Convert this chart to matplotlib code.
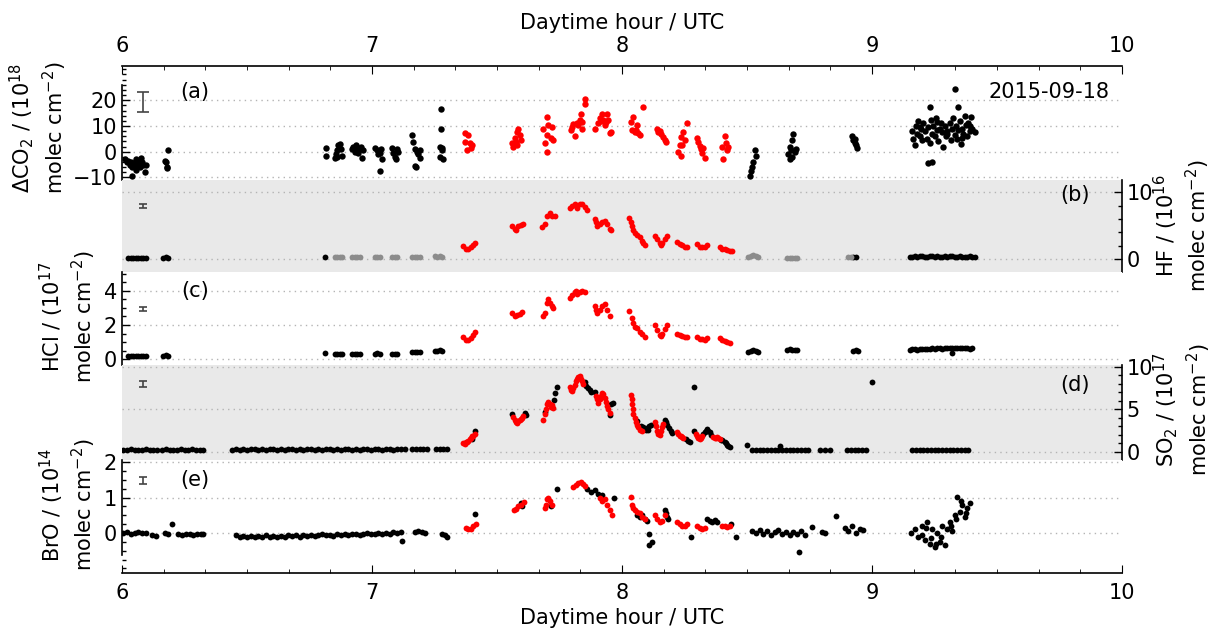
import matplotlib
matplotlib.use('Agg')
from matplotlib import pyplot as plt
from matplotlib.ticker import MultipleLocator

# ---------------- data (hour UTC, value) ----------------
# (a) delta CO2, 1e18 molec cm-2
co2_blk_t = [6.01, 6.02, 6.025, 6.03, 6.035, 6.04, 6.045, 6.05, 6.055, 6.06, 6.065, 6.07, 6.075, 6.08, 6.085, 6.04, 6.09, 6.055, 6.07, 6.095,
             6.17, 6.175, 6.18, 6.18, 6.185,
             6.815, 6.815,
             6.85, 6.855, 6.86, 6.865, 6.87, 6.875, 6.88, 6.86,
             6.92, 6.925, 6.93, 6.935, 6.94, 6.945, 6.95, 6.955, 6.96, 6.965,
             7.01, 7.02, 7.025, 7.03, 7.035, 7.04, 7.03,
             7.08, 7.085, 7.09, 7.1, 7.105, 7.095,
             7.16, 7.165, 7.17, 7.18, 7.185, 7.19, 7.17, 7.175, 7.19,
             7.275, 7.275, 7.27, 7.28, 7.27, 7.285, 7.28,
             8.53, 8.535, 8.525, 8.52, 8.515, 8.51, 8.53,
             8.685, 8.68, 8.67, 8.675, 8.69, 8.665, 8.68, 8.67, 8.695,
             8.92, 8.925, 8.93, 8.935, 8.94, 8.93,
             9.16, 9.165, 9.17, 9.175, 9.18, 9.185, 9.19, 9.195, 9.2, 9.205, 9.21, 9.232, 9.22, 9.225, 9.23, 9.235,
             9.24, 9.245, 9.25, 9.255, 9.26, 9.265, 9.27, 9.275, 9.28, 9.285, 9.29, 9.295, 9.3, 9.332, 9.31, 9.315,
             9.32, 9.325, 9.33, 9.335, 9.34, 9.345, 9.35, 9.355, 9.36, 9.365, 9.37, 9.375, 9.38, 9.385, 9.39, 9.395,
             9.4, 9.41, 9.225, 9.24, 9.345, 9.19, 9.26, 9.3, 9.36, 9.39]
co2_blk_v = [-3, -4, -3.5, -5, -4, -6, -4.5, -5, -3, -5.5, -4, -6, -2.5, -4, -5, -9.5, -8, -7, -3.5, -5,
             -3.5, -4, -6.5, -6, 0.5,
             1.5, -1.5,
             -2.5, -1, 0.5, 2.5, 3, 1, -1.5, -2,
             1, 2, 0, 2.5, 1.5, -0.5, 1, 2, -2.5, 0.5,
             1.5, 0.5, -1, -0.5, 1, -3, -7.5,
             1.5, -0.5, -2, 1, 0, -3,
             6.5, 3.8, 1, 0, -1, -2.5, -5.5, -6, 0.5,
             16.5, 9, 2, 0.5, -2, -3, 1.5,
             0.5, -1.5, -4, -6, -7.5, -9.5, -12,
             7, 4.5, 2, 0.5, 0, -1, -2, -3, 1,
             6, 4.5, 3.5, 2.6, 1.3, 5,
             8, 5, 2.5, 10, 7, 12, 6, 9, 4.5, 11, 8, 17.4, 5, 9.5, 3.5, 12.5,
             7, 10, 6, 13, 8.5, 4, 9, 11, 7.5, 2, 10, 6, 8, 24.5, 11, 4.5,
             9, 13, 6.5, 10, 5, 8.5, 12, 3, 9, 7, 14, 10.5, 6, 11, 8, 13.5,
             9, 7.5, -4.5, -4, 17.4, 9.5, 11.5, 7, 5.5, 10]
co2_red_t = [7.372, 7.385, 7.39, 7.4, 7.395, 7.38, 7.37,
             7.585, 7.58, 7.57, 7.575, 7.58, 7.565, 7.595, 7.59, 7.56,
             7.7, 7.705, 7.72, 7.7, 7.715, 7.69, 7.7, 7.725, 7.685,
             7.85, 7.852, 7.835, 7.83, 7.82, 7.8, 7.795, 7.81, 7.825, 7.84, 7.805, 7.84,
             7.92, 7.94, 7.91, 7.925, 7.935, 7.905, 7.945, 7.89, 7.93, 7.95, 7.915, 7.955,
             8.085, 8.045, 8.035, 8.06, 8.04, 8.05, 8.065, 8.07, 8.055,
             8.14, 8.15, 8.155, 8.165, 8.17, 8.175, 8.145,
             8.26, 8.245, 8.235, 8.23, 8.24, 8.225, 8.235, 8.25,
             8.3, 8.305, 8.31, 8.315, 8.32, 8.33, 8.325,
             8.41, 8.415, 8.4, 8.42, 8.405, 8.425]
co2_red_v = [7.2, 6.5, 3.5, 2.5, 1.5, 0.6, 3.8,
             9, 7.7, 5.2, 3.9, 2.6, 1.7, 4.5, 6.5, 3.5,
             13.5, 10.5, 9.5, 6.5, 5.2, 3.5, 0, 4.5, 9,
             20.5, 18.7, 14.8, 12.3, 11, 9.7, 8.4, 6.1, 10.3, 11.6, 10.8, 8.8,
             14.8, 14.5, 13, 12.3, 11.6, 11, 12.5, 9, 10.3, 7.4, 12, 7.6,
             17.2, 13.5, 11.5, 10.3, 8.4, 7.7, 7.4, 6.5, 8.5,
             9, 8.1, 7, 5.8, 4.5, 3.9, 7.5,
             11, 7.7, 5.8, 2.6, 2.6, 0, -1.7, 4.5,
             5.5, 3.9, 2.2, 0.9, -0.6, -2.6, 1.5,
             6.1, 3.5, 1.7, 0.6, -3, 2]

# (b) HF, 1e16 molec cm-2
hf_blk_t = [6.025, 6.035, 6.045, 6.055, 6.065, 6.075, 6.085, 6.095, 6.165, 6.175, 6.185, 6.81,
            8.925, 8.935,
            9.15, 9.16, 9.17, 9.18, 9.19, 9.2, 9.21, 9.22, 9.23, 9.24, 9.25, 9.26, 9.27, 9.28,
            9.29, 9.3, 9.31, 9.32, 9.33, 9.34, 9.35, 9.36, 9.37, 9.38, 9.39, 9.4, 9.41]
hf_blk_v = [0.2, 0.25, 0.2, 0.15, 0.2, 0.2, 0.25, 0.2, 0.25, 0.3, 0.25, 0.4,
            0.3, 0.3,
            0.4, 0.35, 0.45, 0.4, 0.5, 0.45, 0.4, 0.35, 0.45, 0.5, 0.4, 0.45, 0.35, 0.4,
            0.45, 0.4, 0.5, 0.45, 0.35, 0.4, 0.45, 0.4, 0.35, 0.4, 0.45, 0.4, 0.35]
hf_gry_t = [6.85, 6.86, 6.87, 6.88, 6.92, 6.93, 6.94, 6.95, 7.01, 7.02, 7.03, 7.08, 7.09, 7.1,
            7.16, 7.17, 7.18, 7.19, 7.25, 7.26, 7.27, 7.28,
            8.505, 8.515, 8.525, 8.535, 8.545, 8.66, 8.67, 8.68, 8.69, 8.7, 8.905, 8.915]
hf_gry_v = [0.3, 0.35, 0.3, 0.35, 0.35, 0.3, 0.35, 0.4, 0.35, 0.4, 0.35, 0.4, 0.35, 0.4,
            0.35, 0.4, 0.35, 0.4, 0.45, 0.4, 0.45, 0.4,
            0.3, 0.5, 0.7, 0.5, 0.3, 0.25, 0.2, 0.25, 0.2, 0.25, 0.3, 0.35]
hf_red_t = [7.365, 7.375, 7.385, 7.395, 7.405, 7.41,
            7.56, 7.57, 7.575, 7.585, 7.595, 7.605,
            7.68, 7.69, 7.7, 7.71, 7.72, 7.73,
            7.79, 7.8, 7.81, 7.82, 7.83, 7.84, 7.85, 7.86,
            7.89, 7.895, 7.9, 7.91, 7.92, 7.93, 7.94, 7.95, 7.955,
            8.03, 8.035, 8.04, 8.045, 8.05, 8.06, 8.07, 8.08, 8.085, 8.09,
            8.13, 8.14, 8.15, 8.155, 8.16, 8.17, 8.18,
            8.22, 8.23, 8.24, 8.25, 8.26,
            8.3, 8.31, 8.32, 8.33, 8.34,
            8.39, 8.4, 8.41, 8.42, 8.43, 8.44]
hf_red_v = [2.0, 1.6, 1.5, 1.8, 2.2, 2.5,
            5.0, 4.5, 4.4, 4.9, 5.1, 5.3,
            4.8, 5.2, 6.5, 6.9, 6.4, 6.4,
            7.7, 8.0, 8.2, 7.6, 8.2, 8.3, 7.8, 7.4,
            6.0, 5.5, 5.0, 5.3, 5.6, 5.7, 5.3, 4.5, 4.3,
            6.1, 5.6, 4.9, 4.3, 3.9, 3.6, 3.3, 2.8, 2.4, 2.1,
            3.5, 3.0, 2.5, 2.2, 2.4, 3.0, 3.5,
            2.6, 2.3, 2.1, 1.9, 1.9,
            2.3, 1.9, 1.8, 1.9, 2.1,
            1.9, 1.6, 1.5, 1.4, 1.3, 1.2]

# (c) HCl, 1e17 molec cm-2
hcl_blk_t = [6.025, 6.035, 6.045, 6.055, 6.065, 6.075, 6.085, 6.095, 6.165, 6.175, 6.185, 6.81,
             6.85, 6.86, 6.87, 6.88, 6.92, 6.93, 6.94, 6.95, 7.01, 7.02, 7.03, 7.08, 7.09, 7.1,
             7.16, 7.17, 7.18, 7.19, 7.25, 7.26, 7.27, 7.28,
             8.505, 8.515, 8.525, 8.535, 8.545, 8.66, 8.67, 8.68, 8.69, 8.7, 8.925, 8.935, 8.945,
             9.15, 9.16, 9.17, 9.18, 9.19, 9.2, 9.21, 9.22, 9.23, 9.24, 9.25, 9.26, 9.27, 9.28,
             9.29, 9.3, 9.31, 9.32, 9.33, 9.34, 9.35, 9.36, 9.37, 9.38, 9.39, 9.4, 9.32]
hcl_blk_v = [0.2, 0.2, 0.22, 0.2, 0.2, 0.22, 0.2, 0.2, 0.22, 0.25, 0.22, 0.38,
             0.32, 0.3, 0.33, 0.3, 0.3, 0.33, 0.3, 0.32, 0.32, 0.35, 0.33, 0.33, 0.3, 0.32,
             0.4, 0.43, 0.42, 0.45, 0.48, 0.5, 0.52, 0.5,
             0.45, 0.5, 0.52, 0.48, 0.45, 0.55, 0.58, 0.55, 0.52, 0.55, 0.5, 0.52, 0.5,
             0.55, 0.58, 0.6, 0.57, 0.6, 0.62, 0.6, 0.63, 0.6, 0.65, 0.62, 0.64, 0.66, 0.63,
             0.65, 0.68, 0.66, 0.64, 0.67, 0.65, 0.68, 0.66, 0.64, 0.65, 0.63, 0.64, 0.35]
hcl_red_t = [7.365, 7.375, 7.385, 7.395, 7.405, 7.41,
             7.56, 7.57, 7.58, 7.59, 7.6,
             7.685, 7.69, 7.7, 7.705, 7.71, 7.72, 7.725,
             7.79, 7.8, 7.81, 7.815, 7.82, 7.83, 7.84, 7.85,
             7.89, 7.895, 7.9, 7.91, 7.92, 7.93, 7.94, 7.95,
             8.03, 8.04, 8.045, 8.05, 8.06, 8.07, 8.08, 8.09,
             8.13, 8.14, 8.15, 8.155, 8.16, 8.17, 8.18,
             8.22, 8.23, 8.24, 8.25, 8.26,
             8.3, 8.31, 8.32, 8.33, 8.34,
             8.39, 8.4, 8.41, 8.42, 8.43]
hcl_red_v = [1.3, 1.1, 1.15, 1.25, 1.4, 1.6,
             2.7, 2.55, 2.6, 2.65, 2.75,
             2.5, 2.7, 3.3, 3.5, 3.3, 3.1, 3.0,
             3.6, 3.75, 3.9, 4.0, 3.8, 3.9, 4.0, 3.95,
             3.1, 2.9, 2.7, 2.9, 3.1, 3.2, 2.9, 2.5,
             2.8, 2.4, 2.1, 1.9, 1.8, 1.6, 1.5, 1.3,
             2.0, 1.7, 1.4, 1.35, 1.45, 1.75, 2.0,
             1.5, 1.4, 1.35, 1.3, 1.3,
             1.3, 1.2, 1.2, 1.15, 1.25,
             1.25, 1.15, 1.05, 1.0, 0.95]

# (d) SO2, 1e17 molec cm-2
so2_blk_t = [6.005, 6.02, 6.035, 6.05, 6.065, 6.08, 6.095, 6.11, 6.125, 6.14,
             6.16, 6.175, 6.19, 6.205, 6.22, 6.235, 6.25, 6.265, 6.28, 6.295, 6.31, 6.325,
             6.44, 6.455, 6.47, 6.485, 6.5, 6.515, 6.53, 6.545, 6.56, 6.575, 6.59, 6.605,
             6.62, 6.635, 6.65, 6.665, 6.68, 6.695, 6.71, 6.725, 6.74, 6.755, 6.77, 6.785,
             6.8, 6.815, 6.83, 6.845, 6.86, 6.875, 6.89, 6.905, 6.92, 6.935, 6.95, 6.965,
             6.98, 6.995, 7.01, 7.025, 7.04, 7.055, 7.07, 7.085, 7.1, 7.115, 7.13,
             7.16, 7.175, 7.19, 7.205, 7.22, 7.255, 7.27, 7.285, 7.3,
             7.412, 7.4, 7.558, 7.612, 7.615, 7.728, 7.73, 7.738, 7.69,
             7.85, 7.855, 7.865, 7.87, 7.875, 7.89, 7.955, 7.962, 7.95,
             8.062, 8.075, 8.085, 8.09, 8.095, 8.1, 8.105, 8.11, 8.115,
             8.17, 8.175, 8.18, 8.19, 8.195, 8.2, 8.255, 8.262, 8.27,
             8.288, 8.325, 8.33, 8.335, 8.34, 8.345, 8.35, 8.355,
             8.395, 8.4, 8.41, 8.415, 8.42, 8.425, 8.43, 8.288, 9.0,
             8.5, 8.52, 8.535, 8.55, 8.565, 8.58, 8.595, 8.61, 8.625, 8.632, 8.64, 8.655, 8.67,
             8.685, 8.7, 8.715, 8.73, 8.745, 8.79, 8.81, 8.83, 8.9, 8.915, 8.93, 8.945, 8.96, 8.975,
             9.16, 9.175, 9.19, 9.205, 9.22, 9.235, 9.25, 9.265, 9.28, 9.295, 9.31, 9.325,
             9.34, 9.355, 9.37, 9.385]
so2_blk_v = [0.25, 0.2, 0.3, 0.25, 0.2, 0.25, 0.3, 0.2, 0.25, 0.2,
             0.2, 0.3, 0.25, 0.2, 0.25, 0.3, 0.2, 0.25, 0.3, 0.25, 0.2, 0.25,
             0.25, 0.3, 0.25, 0.3, 0.25, 0.3, 0.3, 0.25, 0.3, 0.25, 0.3, 0.3,
             0.25, 0.3, 0.25, 0.3, 0.3, 0.25, 0.3, 0.25, 0.3, 0.3, 0.25, 0.3,
             0.25, 0.3, 0.3, 0.25, 0.3, 0.25, 0.3, 0.3, 0.25, 0.3, 0.25, 0.3,
             0.3, 0.25, 0.3, 0.3, 0.25, 0.3, 0.3, 0.25, 0.3, 0.35, 0.3,
             0.35, 0.3, 0.35, 0.3, 0.35, 0.35, 0.3, 0.35, 0.3,
             2.4, 1.5, 4.5, 4.6, 4.3, 6.1, 6.9, 7.7, 4.7,
             8.2, 7.8, 7.5, 7.3, 7.1, 7.0, 5.6, 5.7, 4.3,
             3.6, 3.0, 2.9, 2.7, 2.6, 2.8, 2.6, 3.0, 3.2,
             3.7, 3.5, 3.2, 2.8, 2.5, 2.2, 1.5, 1.3, 1.2,
             2.5, 2.1, 2.3, 2.5, 2.7, 2.5, 2.3, 2.0,
             1.4, 1.4, 1.2, 1.0, 0.8, 0.7, 0.6, 7.6, 8.2,
             0.8, 0.25, 0.2, 0.25, 0.2, 0.25, 0.2, 0.25, 0.2, 0.65, 0.25, 0.2, 0.25,
             0.2, 0.25, 0.2, 0.2, 0.25, 0.2, 0.25, 0.2, 0.2, 0.25, 0.2, 0.25, 0.2, 0.25,
             0.15, 0.2, 0.15, 0.2, 0.15, 0.15, 0.2, 0.15, 0.2, 0.15, 0.2, 0.15,
             0.2, 0.15, 0.2, 0.15]
so2_red_t = [7.365, 7.37, 7.375, 7.38, 7.385, 7.39, 7.395, 7.4, 7.405, 7.41,
             7.565, 7.57, 7.575, 7.58, 7.585, 7.59, 7.595, 7.6, 7.605,
             7.685, 7.69, 7.695, 7.7, 7.705, 7.71, 7.715, 7.72, 7.725,
             7.79, 7.795, 7.8, 7.805, 7.81, 7.815, 7.82, 7.825, 7.83, 7.835, 7.84, 7.845,
             7.895, 7.9, 7.905, 7.91, 7.915, 7.92, 7.925, 7.93, 7.935, 7.94, 7.945, 7.95,
             8.035, 8.038, 8.04, 8.043, 8.046, 8.05, 8.055, 8.06, 8.065, 8.07, 8.08,
             8.13, 8.135, 8.14, 8.145, 8.15, 8.155, 8.16, 8.165,
             8.22, 8.225, 8.23, 8.235, 8.24, 8.245,
             8.295, 8.3, 8.305, 8.31, 8.315, 8.32,
             8.365, 8.37, 8.375, 8.38, 8.385, 8.39]
so2_red_v = [1.0, 0.9, 1.1, 1.2, 1.3, 1.5, 1.6, 1.8, 1.9, 2.1,
             4.1, 3.8, 3.5, 3.4, 3.6, 3.8, 3.9, 4.0, 4.2,
             3.8, 4.4, 5.0, 5.6, 5.9, 5.6, 5.3, 5.5, 5.2,
             7.6, 7.3, 7.2, 7.5, 7.9, 8.3, 8.6, 8.8, 8.9, 8.6, 8.3, 8.0,
             6.6, 6.2, 5.8, 6.2, 6.6, 6.9, 6.8, 6.4, 5.9, 5.4, 5.0, 4.6,
             6.7, 6.2, 5.6, 5.0, 4.5, 4.0, 3.5, 3.2, 2.9, 2.6, 2.4,
             3.5, 3.0, 2.5, 2.1, 2.0, 2.4, 2.9, 3.3,
             2.3, 2.1, 1.9, 1.8, 1.7, 1.6,
             2.1, 1.8, 1.6, 1.5, 1.6, 1.8,
             1.7, 1.6, 1.6, 1.7, 1.6, 1.5]

# (e) BrO, 1e14 molec cm-2
bro_blk_t = [6.005, 6.02, 6.035, 6.05, 6.065, 6.08, 6.095, 6.12, 6.135, 6.17, 6.185, 6.2,
             6.225, 6.24, 6.255, 6.27, 6.285, 6.3, 6.315, 6.325,
             6.455, 6.47, 6.485, 6.5, 6.515, 6.53, 6.545, 6.56, 6.575, 6.59, 6.605, 6.62,
             6.635, 6.65, 6.665, 6.68, 6.695, 6.71, 6.725, 6.74, 6.755, 6.77, 6.785, 6.8,
             6.815, 6.83, 6.845, 6.86, 6.875, 6.89, 6.905, 6.92, 6.935, 6.95, 6.965, 6.98,
             6.995, 7.01, 7.025, 7.04, 7.055, 7.07, 7.085, 7.1, 7.115, 7.12,
             7.17, 7.185, 7.2, 7.21, 7.28, 7.29, 7.3,
             7.412, 7.595, 7.6, 7.715, 7.74, 7.86, 7.875, 7.89, 7.905, 7.92, 7.966,
             8.06, 8.07, 8.08, 8.09, 8.1, 8.11, 8.12, 8.11, 8.17, 8.175, 8.18, 8.185,
             8.277, 8.34, 8.35, 8.36, 8.37, 8.38, 8.435, 8.456,
             8.52, 8.535, 8.55, 8.565, 8.58, 8.595, 8.61, 8.625, 8.64, 8.655, 8.67, 8.685,
             8.7, 8.708, 8.715, 8.73, 8.76, 8.8, 8.81, 8.857, 8.89, 8.905, 8.92, 8.935, 8.95, 8.965,
             9.155, 9.17, 9.185, 9.2, 9.21, 9.22, 9.23, 9.24, 9.25, 9.26, 9.27, 9.28, 9.29,
             9.2, 9.215, 9.235, 9.255, 9.275, 9.3, 9.31, 9.32, 9.33, 9.34, 9.35, 9.36,
             9.37, 9.38, 9.39, 9.315, 9.335, 9.355, 9.375]
bro_blk_v = [0.0, 0.02, -0.02, 0.0, 0.03, -0.01, 0.0, -0.05, -0.08, 0.0, -0.02, 0.25,
             -0.03, -0.05, -0.02, -0.04, -0.06, -0.02, -0.04, -0.03,
             -0.07, -0.1, -0.08, -0.12, -0.09, -0.11, -0.08, -0.1, -0.07, -0.1, -0.08, -0.11,
             -0.08, -0.1, -0.06, -0.09, -0.07, -0.1, -0.06, -0.08, -0.05, -0.08, -0.06, -0.04,
             -0.07, -0.05, -0.08, -0.04, -0.06, -0.03, -0.06, -0.04, -0.02, -0.05, -0.03, -0.01,
             -0.04, -0.02, 0.0, -0.03, 0.01, -0.02, 0.02, 0.0, 0.03, -0.23,
             0.02, 0.05, 0.03, 0.0, -0.03, -0.07, -0.1,
             0.54, 0.85, 0.75, 0.75, 1.25, 1.25, 1.15, 1.2, 1.1, 1.06, 1.0,
             0.5, 0.45, 0.5, 0.4, 0.35, -0.03, -0.25, -0.35, 0.65, 0.55, 0.45, 0.4,
             -0.12, 0.4, 0.35, 0.3, 0.38, 0.32, 0.25, -0.12,
             0.05, 0.0, 0.08, -0.03, 0.06, -0.05, 0.02, 0.07, -0.02, 0.04, -0.06, 0.03,
             -0.04, -0.53, 0.05, -0.07, 0.17, 0.02, 0.0, 0.47, 0.15, 0.05, 0.2, 0.0, 0.12, 0.08,
             0.0, 0.1, -0.1, 0.2, -0.2, 0.3, -0.3, 0.1, -0.4, 0.0, -0.25, 0.2, -0.35,
             -0.05, 0.15, -0.15, -0.3, -0.1, 0.1, 0.3, 0.05, 0.5, 1.02, 0.6, 0.8,
             0.45, 0.7, 0.85, 0.2, 0.4, 0.9, 0.55]
bro_red_t = [7.376, 7.385, 7.395, 7.405, 7.414,
             7.567, 7.575, 7.585, 7.595, 7.606,
             7.69, 7.695, 7.7, 7.705, 7.71, 7.72,
             7.805, 7.815, 7.825, 7.835, 7.845, 7.85,
             7.91, 7.92, 7.93, 7.94, 7.95, 7.96,
             8.036, 8.04, 8.045, 8.05, 8.06, 8.07, 8.08, 8.09,
             8.13, 8.14, 8.15, 8.16, 8.17,
             8.22, 8.23, 8.24, 8.25, 8.26,
             8.3, 8.31, 8.32, 8.33,
             8.4, 8.41, 8.42, 8.43]
bro_red_v = [0.15, 0.1, 0.12, 0.2, 0.25,
             0.65, 0.68, 0.75, 0.8, 0.88,
             0.7, 0.8, 0.95, 1.0, 0.9, 0.8,
             1.3, 1.35, 1.4, 1.43, 1.38, 1.32,
             1.0, 0.9, 0.95, 0.8, 0.65, 0.5,
             1.02, 0.8, 0.7, 0.65, 0.6, 0.55, 0.45, 0.4,
             0.5, 0.4, 0.3, 0.35, 0.5,
             0.3, 0.25, 0.2, 0.2, 0.25,
             0.2, 0.15, 0.1, 0.15,
             0.2, 0.2, 0.18, 0.2]

# error bars drawn at the left of each panel: (y, yerr)
err_t = 6.083
err_co2 = (19.3, 3.9)
err_hf = (7.95, 0.3)
err_hcl = (2.93, 0.1)
err_so2 = (8.0, 0.3)
err_bro = (1.49, 0.1)

# ---------------- figure ----------------
W, H = 1211, 629
FS = 15
plt.rcParams['font.family'] = 'DejaVu Sans'
plt.rcParams['mathtext.fontset'] = 'dejavusans'
fig = plt.figure(figsize=(W / 100, H / 100), dpi=100)

def box(top, bottom):
    return [122 / W, 1 - bottom / H, 1000 / W, (bottom - top) / H]

ax_a = fig.add_axes(box(66, 180))
ax_b = fig.add_axes(box(180, 272))
ax_c = fig.add_axes(box(272, 365))
ax_d = fig.add_axes(box(365, 460))
ax_e = fig.add_axes(box(460, 573))
grey_bg = '#e9e9e9'
red = '#ff0000'

setup = [
    (ax_a, (-11.0, 33.3), 'left', [-10, 0, 10, 20], 2, 'white'),
    (ax_b, (-1.9, 11.84), 'right', [0, 10], 2, grey_bg),
    (ax_c, (-0.33, 5.09), 'left', [0, 2, 4], 0.5, 'white'),
    (ax_d, (-0.98, 10.24), 'right', [0, 5, 10], 1, grey_bg),
    (ax_e, (-1.13, 2.06), 'left', [0, 1, 2], 0.25, 'white'),
]
for ax, ylim, side, yt, ymin, bg in setup:
    ax.set_facecolor(bg)
    ax.set_xlim(6, 10)
    ax.set_ylim(*ylim)
    for s in ax.spines.values():
        s.set_visible(False)
    ax.spines[side].set_visible(True)
    ax.spines[side].set_linewidth(1.2)
    ax.set_yticks(yt)
    ax.yaxis.set_minor_locator(MultipleLocator(ymin))
    ax.yaxis.set_ticks_position(side)
    ax.yaxis.set_label_position(side)
    ax.tick_params(axis='y', which='both', direction='in', labelsize=FS)
    ax.tick_params(axis='y', which='major', length=6, width=1)
    ax.tick_params(axis='y', which='minor', length=3, width=1)
    ax.set_xticks([6, 7, 8, 9, 10])
    ax.xaxis.set_minor_locator(MultipleLocator(1 / 6))
    ax.tick_params(axis='x', which='both', bottom=False, top=False,
                   labelbottom=False, labeltop=False)
    for y in yt:
        ax.axhline(y, color='#b4b4b4', ls=(0, (1, 3)), lw=1, zorder=0)

ax_a.spines['left'].set_bounds(-11.0, 26)
ax_a.spines['top'].set_visible(True)
ax_a.spines['top'].set_linewidth(1.2)
ax_a.set_yticklabels(['\u221210', '0', '10', '20'])
ax_a.tick_params(axis='x', which='both', top=True, labeltop=True, direction='in',
                 labelsize=FS, pad=7)
ax_a.tick_params(axis='x', which='major', length=6)
ax_a.tick_params(axis='x', which='minor', length=3)
ax_a.xaxis.set_label_position('top')
ax_a.set_xlabel('Daytime hour / UTC', fontsize=FS, labelpad=5)

ax_e.spines['left'].set_bounds(-0.62, 2.06)
ax_e.spines['bottom'].set_visible(True)
ax_e.spines['bottom'].set_linewidth(1.2)
ax_e.tick_params(axis='x', which='both', bottom=True, labelbottom=True, direction='in',
                 labelsize=FS, pad=7)
ax_e.tick_params(axis='x', which='major', length=6)
ax_e.tick_params(axis='x', which='minor', length=3)
ax_e.set_xlabel('Daytime hour / UTC', fontsize=FS, labelpad=4)

ms = 4.2
kw = dict(ls='none', marker='o', mew=0)
ax_a.plot(co2_blk_t, co2_blk_v, color='k', ms=4.6, **kw)
ax_a.plot(co2_red_t, co2_red_v, color=red, ms=4.6, **kw)
ax_b.plot(hf_blk_t, hf_blk_v, color='k', ms=ms, **kw)
ax_b.plot(hf_gry_t, hf_gry_v, color='#8c8c8c', ms=ms, **kw)
ax_b.plot(hf_red_t, hf_red_v, color=red, ms=ms, **kw)
ax_c.plot(hcl_blk_t, hcl_blk_v, color='k', ms=ms, **kw)
ax_c.plot(hcl_red_t, hcl_red_v, color=red, ms=ms, **kw)
ax_d.plot(so2_blk_t, so2_blk_v, color='k', ms=ms, **kw)
ax_d.plot(so2_red_t, so2_red_v, color=red, ms=ms, **kw)
ax_e.plot(bro_blk_t, bro_blk_v, color='k', ms=ms, **kw)
ax_e.plot(bro_red_t, bro_red_v, color=red, ms=ms, **kw)

for ax, (yv, ye), cap in [(ax_a, err_co2, 4), (ax_b, err_hf, 3), (ax_c, err_hcl, 3),
                          (ax_d, err_so2, 3), (ax_e, err_bro, 3)]:
    ax.errorbar([err_t], [yv], yerr=[ye], fmt='none', ecolor='#444444',
                elinewidth=1.2, capsize=cap, capthick=1.2)

# panel letters and date
ax_a.text(6.292, 23.2, '(a)', fontsize=FS, ha='center', va='center')
ax_b.text(9.81, 9.6, '(b)', fontsize=FS, ha='center', va='center')
ax_c.text(6.292, 4.0, '(c)', fontsize=FS, ha='center', va='center')
ax_d.text(9.81, 7.9, '(d)', fontsize=FS, ha='center', va='center')
ax_e.text(6.292, 1.5, '(e)', fontsize=FS, ha='center', va='center')
ax_a.text(9.95, 23.2, '2015-09-18', fontsize=FS, ha='right', va='center')

# y labels
ylabels = [
    (38, 128, '$\\Delta$CO$_2$ / (10$^{18}$\nmolec cm$^{-2}$)'),
    (1182, 226, 'HF / (10$^{16}$\nmolec cm$^{-2}$)'),
    (68, 317, 'HCl / (10$^{17}$\nmolec cm$^{-2}$)'),
    (1182, 410, 'SO$_2$ / (10$^{17}$\nmolec cm$^{-2}$)'),
    (68, 505, 'BrO / (10$^{14}$\nmolec cm$^{-2}$)'),
]
for px, py, txt in ylabels:
    fig.text(px / W, 1 - py / H, txt, rotation=90, ha='center', va='center',
             multialignment='center', fontsize=FS)

fig.savefig('out.png', dpi=100)
